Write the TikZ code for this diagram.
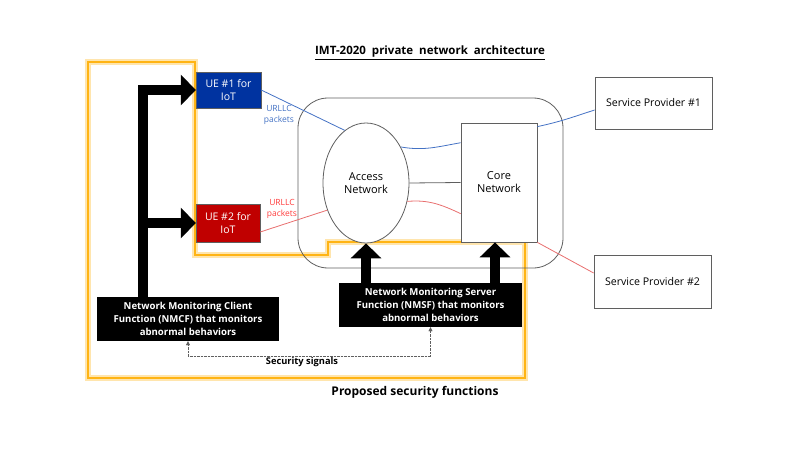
\documentclass[tikz,border=0pt]{standalone}
\usepackage{fontspec}
\setmainfont{Open Sans}
\usetikzlibrary{arrows.meta,shapes.geometric}
\definecolor{ueblue}{RGB}{0,51,160}
\definecolor{uered}{RGB}{192,0,0}
\definecolor{lnblue}{RGB}{68,114,196}
\definecolor{lnred}{RGB}{232,110,110}
\definecolor{txred}{RGB}{255,60,60}
\definecolor{frame}{RGB}{255,180,20}
\definecolor{edge}{RGB}{95,95,95}
\tikzset{
  ue/.style={draw=edge, text=white, align=center, font=\fontsize{10.5}{13}\selectfont, inner sep=0pt},
  plain/.style={draw=edge, fill=white, line width=0.8pt, align=center, font=\fontsize{11}{13}\selectfont, inner sep=0pt},
  mon/.style={fill=black, text=white, align=center, font=\fontsize{9.6}{12.8}\selectfont\bfseries, inner sep=0pt},
  bigarrow/.style={line width=10pt, line join=miter, -{Triangle[length=15pt,width=30pt]}},
  pkt/.style={align=center, font=\fontsize{8.5}{10.5}\selectfont},
}
\begin{document}
\begin{tikzpicture}[x=1pt,y=1pt]
\useasboundingbox (0,0) rectangle (795,448);
% orange frame
\draw[frame!35, line width=6pt, line join=miter] (88,386) -- (195,386) -- (195,193) -- (328,193) -- (328,206) -- (525,206) -- (525,70) -- (88,70) -- cycle;
\draw[frame, line width=2.5pt, line join=miter] (88,386) -- (195,386) -- (195,193) -- (328,193) -- (328,206) -- (525,206) -- (525,70) -- (88,70) -- cycle;
% title
\node[font=\fontsize{11.5}{13}\selectfont\bfseries] (title) at (430,395) {\underline{IMT-2020\ \ private\ \ network\ \ architecture}};
% main network
\node[draw=edge, line width=0.8pt, rounded corners=30pt, minimum width=265pt, minimum height=170pt] (cloud) at (430.5,265) {};
\node[ellipse, plain, minimum width=86pt, minimum height=120pt] (acc) at (366,265) {Access\\Network};
\node[plain, minimum width=76pt, minimum height=119pt] (core) at (499,265.5) {Core\\Network};
\node[plain, font=\fontsize{10.6}{12}\selectfont, minimum width=117pt, minimum height=52pt] (sp1) at (653.5,345) {Service Provider \#1};
\node[plain, font=\fontsize{10.6}{12}\selectfont, minimum width=117pt, minimum height=53pt] (sp2) at (652.5,166.5) {Service Provider \#2};
\node[ue, fill=ueblue, minimum width=65pt, minimum height=36pt] (ue1) at (228.5,358) {UE \#1 for\\IoT};
\node[ue, fill=uered, minimum width=64pt, minimum height=38pt] (ue2) at (228,225) {UE \#2 for\\IoT};
% packet lines
\draw[lnblue, thick] (ue1.east) -- (acc.112);
\draw[lnblue, thick] (acc.46) to[out=-10, in=190] (core.134);
\draw[lnblue, thick] ([yshift=-4pt]core.north east) to[out=12, in=198] ([yshift=-7pt]sp1.west);
\draw[edge, thick] (acc.east) -- (core.west);
\draw[lnred, thick] (acc.-24) to[out=5, in=155] (core.219);
\draw[lnred, thick] ([yshift=-9pt]ue2.east) -- (acc.215);
\draw[lnred, thick] (core.south east) -- ([yshift=8.5pt]sp2.west);
\node[pkt, text=lnblue] (lbl1) at (279,333) {URLLC\\packets};
\node[pkt, text=txred] (lbl2) at (282,239) {URLLC\\packets};
% monitoring functions
\node[mon, minimum width=182pt, minimum height=44pt] (nmcf) at (188,129) {Network Monitoring Client\\Function (NMCF) that monitors\\abnormal behaviors};
\node[mon, minimum width=183pt, minimum height=44pt] (nmsf) at (430.5,143) {Network Monitoring Server\\Function (NMSF) that monitors\\abnormal behaviors};
\coordinate (trunk) at (143,151);
\coordinate (fork) at (143,225);
\draw[bigarrow] (trunk) |- (ue1.west);
\draw[bigarrow] (fork) -- (ue2.west);
\draw[bigarrow] (nmsf.north -| acc.south) -- (acc.south);
\draw[bigarrow] ([xshift=-4pt]nmsf.north -| core.south) -- ([xshift=-4pt]core.south);
% security signals
\draw[densely dotted, edge, {Triangle[length=4pt,width=4pt]}-{Triangle[length=4pt,width=4pt]}] (nmcf.south) -- ++(0,-15) -| (nmsf.south);
\node[font=\fontsize{9.3}{11}\selectfont\bfseries] (sec) at (302,86) {Security signals};
\node[font=\fontsize{12}{14}\selectfont\bfseries] (prop) at (415,56) {Proposed security functions};
\end{tikzpicture}
\end{document}
